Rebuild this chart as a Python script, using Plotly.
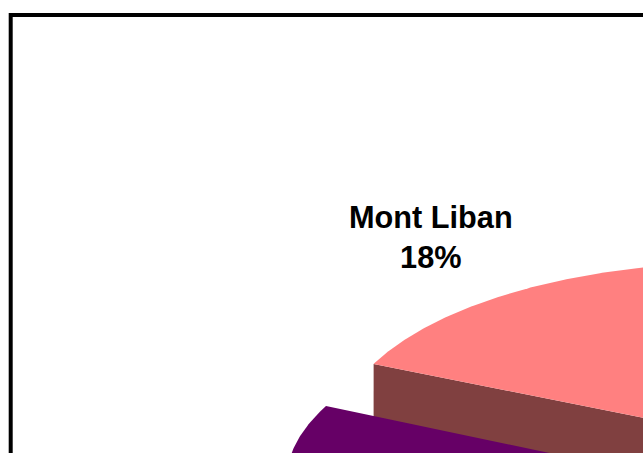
import numpy as np
import plotly.graph_objects as go

# Data
regions = ["Mont Liban", "Autres"]
shares = [18, 30]
slice_colors = ["#FF8080", "#660066"]
side_color = "#804040"

# Pie geometry (pixels of the chart area)
W, H = 643, 453
CX, CY = 737, 436.6
RX, RY = 400, 174
DEPTH = 70
START_DEG = 204.7
PURPLE_END_DEG = 205.8
APEX = (326, 406)


def arc(t0, t1, cx, cy):
    t = np.radians(np.linspace(t0, t1, 200))
    return cx + RX * np.cos(t), cy + RY * np.sin(t)


def wedge(t0, t1, cx, cy):
    x, y = arc(t0, t1, cx, cy)
    return np.r_[cx, x, cx], np.r_[cy, y, cy]


fig = go.Figure()


def add_poly(x, y, color):
    fig.add_trace(go.Scatter(x=x, y=y, mode="lines", fill="toself", fillcolor=color,
                             line=dict(width=0, color=color), hoverinfo="skip", showlegend=False))


end_pink = START_DEG + shares[0] * 3.6
start_purple = PURPLE_END_DEG - shares[1] * 3.6

# Side wall of the Mont Liban slice
ex, ey = arc(START_DEG, START_DEG, CX, CY)
add_poly([CX, ex[0], ex[0], CX, CX], [CY, ey[0], ey[0] + DEPTH, CY + DEPTH, CY], side_color)
# Top of the Mont Liban slice
x, y = wedge(START_DEG, end_pink, CX, CY)
add_poly(x, y, slice_colors[0])
# Exploded neighbouring slice
pcx = APEX[0] - RX * np.cos(np.radians(PURPLE_END_DEG))
pcy = APEX[1] - RY * np.sin(np.radians(PURPLE_END_DEG))
x, y = wedge(start_purple, PURPLE_END_DEG, pcx, pcy)
add_poly(x, y, slice_colors[1])

fig.add_annotation(x=431, y=237, xref="x", yref="y", showarrow=False, align="center",
                   text=f"<b>{regions[0]}<br>{shares[0]}%</b>",
                   font=dict(family="Liberation Sans", size=30.7, color="black"))

# Chart frame, its right and bottom sides fall outside the picture
fig.add_shape(type="rect", xref="x", yref="y", x0=10.7, y0=15, x1=W + 50, y1=H + 50,
              line=dict(color="black", width=4), fillcolor="rgba(0,0,0,0)")

fig.update_layout(
    width=W, height=H, autosize=False,
    margin=dict(l=0, r=0, t=0, b=0),
    paper_bgcolor="white", plot_bgcolor="white", showlegend=False,
    xaxis=dict(range=[0, W], visible=False, fixedrange=True),
    yaxis=dict(range=[H, 0], visible=False, fixedrange=True),
)
fig.write_html("out.html", config={"displayModeBar": False},
               post_script="document.body.style.margin='0';document.body.style.overflow='hidden';")
